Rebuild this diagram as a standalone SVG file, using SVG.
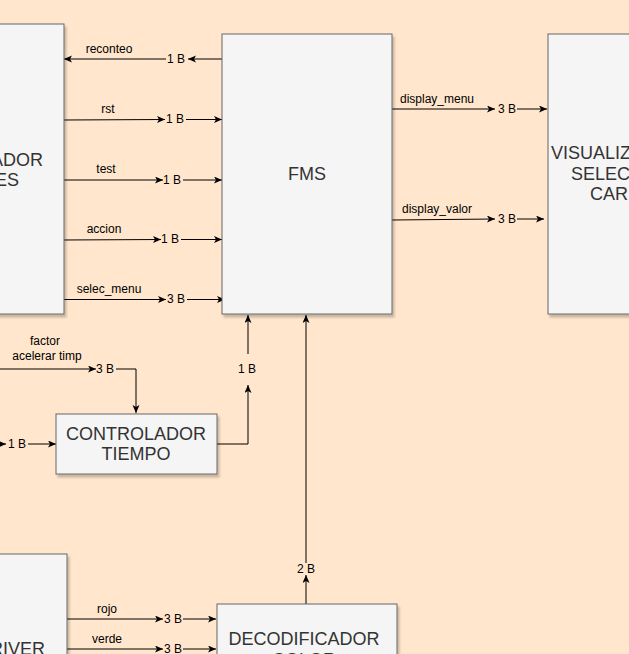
<svg xmlns="http://www.w3.org/2000/svg" width="629" height="654" viewBox="0 0 629 654">
<style>
.box{fill:#f5f5f5;stroke:#666666;stroke-width:1;filter:url(#sh)}
.bt{font-family:"Liberation Sans",Arial,sans-serif;font-size:18px;fill:#333333;text-anchor:middle}
.lbl{font-family:"Liberation Sans",Arial,sans-serif;font-size:12px;fill:#000;text-anchor:middle}
.nb{font-family:"Liberation Sans",Arial,sans-serif;font-size:12px;fill:#000;text-anchor:middle}
.e{fill:none;stroke:#000;stroke-width:1;marker-end:url(#ar)}
</style>
<defs>
<filter id="sh" x="-10%" y="-10%" width="130%" height="130%">
<feDropShadow dx="2" dy="3" stdDeviation="1.2" flood-color="#000" flood-opacity="0.22"/>
</filter>
<marker id="ar" markerUnits="userSpaceOnUse" markerWidth="9" markerHeight="8" refX="8" refY="3.5" orient="auto" viewBox="0 0 9 8">
<path d="M0,0 L8,3.5 L0,7 L2,3.5 Z" fill="#000"/>
</marker>
</defs>
<rect x="0" y="0" width="629" height="654" fill="#FFE6CC"/>

<g id="connectors">
<path class="e" d="M222,59 L188,59"/>
<path class="e" d="M166,59 L64,59"/>
<path class="e" d="M64,120 L165,119.5"/>
<path class="e" d="M186,119.5 L222,119.5"/>
<path class="e" d="M64,180 L163,180"/>
<path class="e" d="M183,180 L222,180"/>
<path class="e" d="M62,240 L161,239.5"/>
<path class="e" d="M181,239.5 L222,239.5"/>
<path class="e" d="M64,299.5 L166,299.5"/>
<path class="e" d="M187,299.5 L225,299.5"/>
<path class="e" d="M392,109 L495,109"/>
<path class="e" d="M517,109 L547,109"/>
<path class="e" d="M392,220 L495,219"/>
<path class="e" d="M517,219 L544,219"/>
<path class="e" d="M-5,369 L96,369"/>
<path class="e" d="M116,369 L136,369 L136,413"/>
<path class="e" d="M-10,444 L6,444"/>
<path class="e" d="M28,444 L56,444"/>
<path class="e" d="M217,444 L248,444 L248,385"/>
<path class="e" d="M248,354 L248,315"/>
<path class="e" d="M306,604 L306,575"/>
<path class="e" d="M306,563 L306,315"/>
<path class="e" d="M67,619 L163,619"/>
<path class="e" d="M183,619 L216,619"/>
<path class="e" d="M67,649 L163,649"/>
<path class="e" d="M183,649 L216,649"/>
<text class="lbl" x="109" y="53">reconteo</text>
<text class="lbl" x="108" y="113">rst</text>
<text class="lbl" x="106" y="173">test</text>
<text class="lbl" x="104" y="233">accion</text>
<text class="lbl" x="109" y="293">selec_menu</text>
<text class="lbl" x="437" y="103">display_menu</text>
<text class="lbl" x="437" y="213">display_valor</text>
<text class="lbl" x="45" y="345">factor</text>
<text class="lbl" x="47" y="360">acelerar timp</text>
<text class="lbl" x="107" y="613">rojo</text>
<text class="lbl" x="107" y="643">verde</text>
</g>

<g id="b1"><text class="nb" x="176" y="63">1 B</text></g>
<g id="b2"><text class="nb" x="175" y="123">1 B</text></g>
<g id="b3"><text class="nb" x="172" y="184">1 B</text></g>
<g id="b4"><text class="nb" x="170" y="243">1 B</text></g>
<g id="b5"><text class="nb" x="176" y="303">3 B</text></g>
<g id="b6"><text class="nb" x="507" y="113">3 B</text></g>
<g id="b7"><text class="nb" x="507" y="223">3 B</text></g>
<g id="b8"><text class="nb" x="105" y="373">3 B</text></g>
<g id="b9"><text class="nb" x="17" y="448">1 B</text></g>
<g id="b10"><text class="nb" x="247" y="373">1 B</text></g>
<g id="b11"><text class="nb" x="306" y="573">2 B</text></g>
<g id="b12"><text class="nb" x="173" y="623">3 B</text></g>
<g id="b13"><text class="nb" x="173" y="653">3 B</text></g>

<g id="controlador">
<rect class="box" x="-110" y="24" width="174" height="290"/>
<text class="bt" style="text-anchor:end" x="43" y="166">ADOR</text>
<text class="bt" style="text-anchor:end" x="19" y="186">ES</text>
</g>
<g id="fms">
<rect class="box" x="222" y="34" width="170" height="280"/>
<text class="bt" x="307" y="180">FMS</text>
</g>
<g id="visualizador">
<rect class="box" x="548" y="34" width="120" height="280"/>
<text class="bt" style="text-anchor:start" x="551" y="159">VISUALIZ</text>
<text class="bt" style="text-anchor:start" x="571" y="180">SELEC</text>
<text class="bt" style="text-anchor:start" x="590" y="200">CAR</text>
</g>
<g id="ctrl-tiempo">
<rect class="box" x="56" y="414" width="161" height="60"/>
<text class="bt" x="136" y="440">CONTROLADOR</text>
<text class="bt" x="136" y="460">TIEMPO</text>
</g>
<g id="decodificador">
<rect class="box" x="217" y="604" width="180" height="80"/>
<text class="bt" x="304" y="645">DECODIFICADOR</text>
<text class="bt" x="304" y="666">COLOR</text>
</g>
<g id="driver">
<rect class="box" x="-100" y="554" width="167" height="150"/>
<text class="bt" style="text-anchor:end" x="45" y="655">RIVER</text>
</g>
</svg>
